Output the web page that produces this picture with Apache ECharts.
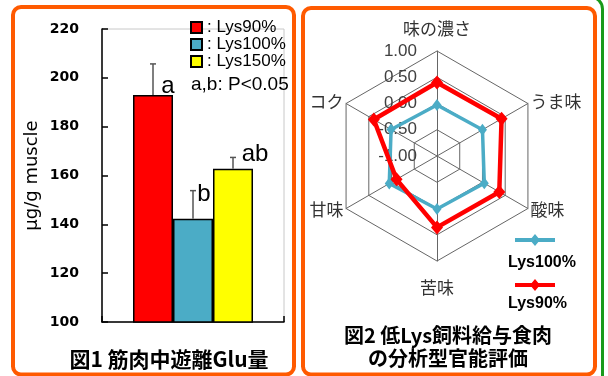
<!DOCTYPE html>
<html>
<head>
<meta charset="utf-8">
<script src="https://cdn.jsdelivr.net/npm/echarts@6/dist/echarts.min.js"></script>
<style>
html, body { margin: 0; padding: 0; background: #fff; }
#main { width: 608px; height: 376px; }
</style>
</head>
<body>
<div id="main"></div>
<script>
// 図1 筋肉中遊離Glu量
var groups = ['Lys90%', 'Lys100%', 'Lys150%'];
var gluMean = [193.0, 142.3, 162.8];
var gluErr = [12.7, 11.5, 4.6];
var sigLetters = ['a', 'b', 'ab'];
var yMin = 100, yMax = 220, yStep = 20;

// 図2 低Lys飼料給与食肉の分析型官能評価 (clockwise from top)
var tastes = ['味の濃さ', 'うま味', '酸味', '苦味', '甘味', 'コク'];
var lys100 = [-0.03, 0.00, 0.04, 0.01, 0.05, 0.01];
var lys90 = [0.40, 0.42, 0.37, 0.36, -0.11, 0.39];
var radarGroups = ['Lys100%', 'Lys90%'];
var rMin = -1, rMax = 1;

var barColors = ['#FF0000', '#4BACC6', '#FFFF00'];
var radarColors = ['#4BACC6', '#FF0000'];
var labelOffsets = [[15, 3], [11, -12], [22, -2]];
var BAR_W = 40;

// echarts radar runs counter-clockwise, so reorder
var ccw = [0, 5, 4, 3, 2, 1];
var nameGaps = [14, 3, 3, 18, 3, 3];

var myChart = echarts.init(document.getElementById('main'));

var barSeries = groups.map(function (g, i) {
	return {
		name: g,
		type: 'bar',
		barWidth: BAR_W,
		barGap: '0%',
		itemStyle: { color: barColors[i], borderColor: '#000', borderWidth: 1.5 },
		label: {
			show: true,
			position: 'top',
			distance: 0,
			offset: labelOffsets[i],
			formatter: sigLetters[i],
			fontFamily: 'Arial',
			fontSize: 24,
			color: '#000'
		},
		data: [gluMean[i]]
	};
});

var lineIcon = 'path://M0,4 L40,4 L40,8 L0,8 Z M20,0 L25,6 L20,12 L15,6 Z';

myChart.setOption({
	animation: false,
	backgroundColor: '#fff',
	title: [{
		text: '図1 筋肉中遊離Glu量',
		left: 169, top: 359, padding: 0,
		textAlign: 'center', textVerticalAlign: 'middle',
		textStyle: { fontFamily: 'Noto Sans CJK JP', fontWeight: 'bold', fontSize: 21, color: '#000' }
	}, {
		text: '図2 低Lys飼料給与食肉\nの分析型官能評価',
		left: 448, top: 347, padding: 0,
		textAlign: 'center', textVerticalAlign: 'middle',
		textStyle: { fontFamily: 'Noto Sans CJK JP', fontWeight: 'bold', fontSize: 20, lineHeight: 23, color: '#000' }
	}, {
		text: 'a,b: P<0.05',
		left: 191, top: 85, padding: 0,
		textAlign: 'left', textVerticalAlign: 'middle',
		textStyle: { fontFamily: 'Arial', fontWeight: 'normal', fontSize: 19, color: '#000' }
	}],
	legend: [{
		data: groups,
		orient: 'vertical',
		left: 190, top: 19, padding: 0,
		itemGap: 0, itemWidth: 11, itemHeight: 11,
		icon: 'rect',
		selectedMode: false,
		formatter: ': {name}',
		textStyle: { fontFamily: 'Arial', fontSize: 17, lineHeight: 17, color: '#000' }
	}, {
		// radar legend: line icons
		data: radarGroups.map(function (g, i) {
			return { name: g, icon: lineIcon, itemStyle: { color: radarColors[i], borderWidth: 0 } };
		}),
		orient: 'vertical',
		left: 515, top: 234, padding: 0,
		itemWidth: 40, itemHeight: 12, itemGap: 33,
		selectedMode: false,
		formatter: function () { return ''; },
		textStyle: { fontSize: 1, lineHeight: 1 }
	}, {
		// radar legend: names under the icons
		data: radarGroups.map(function (g) { return { name: g, icon: 'none' }; }),
		orient: 'vertical',
		left: 503, top: 255, padding: 0,
		itemWidth: 0, itemHeight: 16, itemGap: 25,
		selectedMode: false,
		textStyle: { fontFamily: 'Arial', fontWeight: 'bold', fontSize: 16, lineHeight: 16, color: '#000' }
	}],
	grid: {
		left: 102, top: 29, width: 182, height: 293,
		show: true, borderColor: '#c8c8c8', borderWidth: 1
	},
	xAxis: {
		type: 'category',
		data: ['Glu'],
		axisLine: { lineStyle: { color: '#000', width: 1.5 } },
		axisTick: { show: true, inside: true, length: 6, lineStyle: { color: '#000', width: 1.5 } },
		axisLabel: { show: false },
		splitLine: { show: false }
	},
	yAxis: {
		type: 'value',
		min: yMin, max: yMax, interval: yStep,
		name: 'μg/g muscle',
		nameLocation: 'middle',
		nameRotate: 90,
		nameGap: 61,
		nameTextStyle: { fontFamily: 'DejaVu Sans', fontSize: 18, color: '#000' },
		axisLine: { show: true, lineStyle: { color: '#000', width: 1.5 } },
		axisTick: { show: true, inside: true, length: 6, lineStyle: { color: '#000', width: 1.5 } },
		axisLabel: { margin: 23, color: '#000', fontFamily: 'DejaVu Sans', fontWeight: 'bold', fontSize: 14 },
		splitLine: { show: false }
	},
	radar: {
		center: [437, 156],
		radius: 105,
		startAngle: 90,
		splitNumber: 4,
		shape: 'polygon',
		indicator: ccw.map(function (k, j) {
			var ind = { name: tastes[k], min: rMin, max: rMax, nameGap: nameGaps[k] };
			if (j === 0) {
				ind.axisLabel = {
					show: true, margin: 20, color: '#404040',
					fontFamily: 'Arial', fontSize: 17,
					formatter: function (v) { return v.toFixed(2); }
				};
			}
			return ind;
		}),
		axisName: { color: '#333', fontSize: 17, fontFamily: 'Noto Sans CJK JP' },
		axisLine: { lineStyle: { color: '#666', width: 1 } },
		splitLine: { lineStyle: { color: '#666', width: 1 } },
		splitArea: { show: false }
	},
	graphic: [
		{ type: 'rect', shape: { x: -60, y: -3, width: 662.5, height: 392, r: 12 }, style: { fill: 'none', stroke: '#1A9A1A', lineWidth: 3 }, z: 0 },
		{ type: 'rect', shape: { x: 13, y: 7, width: 281, height: 367.5, r: 8 }, style: { fill: 'none', stroke: '#FF5A00', lineWidth: 4 }, z: 1 },
		{ type: 'rect', shape: { x: 303, y: 8, width: 292, height: 366.5, r: 8 }, style: { fill: 'none', stroke: '#FF5A00', lineWidth: 4 }, z: 1 }
	],
	series: barSeries.concat([{
		type: 'custom',
		silent: true,
		z: 3,
		data: gluMean.map(function (m, i) { return [0, m, m + gluErr[i], i]; }),
		encode: { x: 0, y: [1, 2] },
		renderItem: function (params, api) {
			var base = api.coord([0, api.value(1)]);
			var top = api.coord([0, api.value(2)]);
			var x = base[0] + (api.value(3) - 1) * BAR_W;
			var st = { stroke: '#555', lineWidth: 1.5 };
			return {
				type: 'group',
				children: [
					{ type: 'line', shape: { x1: x, y1: base[1], x2: x, y2: top[1] }, style: st },
					{ type: 'line', shape: { x1: x - 3, y1: top[1], x2: x + 3, y2: top[1] }, style: st }
				]
			};
		}
	}, {
		type: 'radar',
		data: [{
			name: radarGroups[0],
			value: ccw.map(function (k) { return lys100[k]; }),
			symbol: 'diamond', symbolSize: [9, 12],
			lineStyle: { color: radarColors[0], width: 3.5 },
			itemStyle: { color: radarColors[0] }
		}, {
			name: radarGroups[1],
			value: ccw.map(function (k) { return lys90[k]; }),
			symbol: 'diamond', symbolSize: [12, 14],
			lineStyle: { color: radarColors[1], width: 4.5 },
			itemStyle: { color: radarColors[1] }
		}]
	}])
});
</script>
</body>
</html>
